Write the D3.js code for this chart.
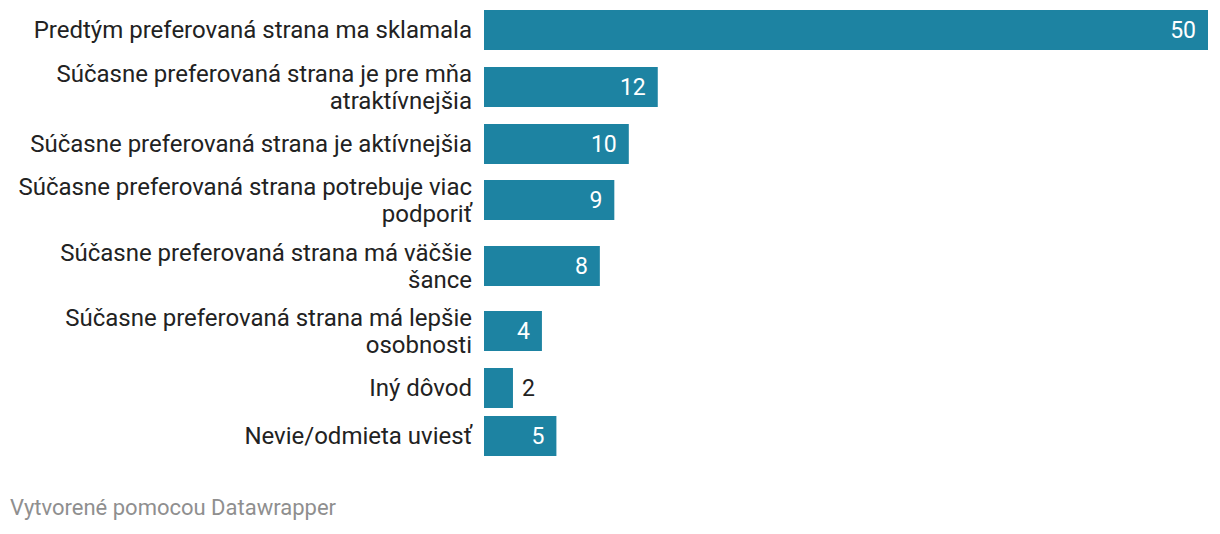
<!DOCTYPE html>
<html>
<head>
	<meta charset="utf-8">
	<title>Dôvody zmeny preferencie</title>
	<script src="https://cdn.jsdelivr.net/npm/d3@7"></script>
	<style>
		body { margin: 0; background: #fff; }
		svg text { font-family: Roboto, "Noto Sans", sans-serif; }
	</style>
</head>
<body>
	<div id="chart"></div>
	<script>
		// dáta
		var labels = [
			["Predtým preferovaná strana ma sklamala"],
			["Súčasne preferovaná strana je pre mňa", "atraktívnejšia"],
			["Súčasne preferovaná strana je aktívnejšia"],
			["Súčasne preferovaná strana potrebuje viac", "podporiť"],
			["Súčasne preferovaná strana má väčšie", "šance"],
			["Súčasne preferovaná strana má lepšie", "osobnosti"],
			["Iný dôvod"],
			["Nevie/odmieta uviesť"]
		];
		var values = [50, 12, 10, 9, 8, 4, 2, 5];
		var footer = "Vytvorené pomocou Datawrapper";

		var w = 1220, h = 534;
		var barLeft = 484, barRight = 1208;
		var barH = 40;
		var color = "#1d83a2";

		var svg = d3.select("#chart").append("svg")
			.attr("width", w)
			.attr("height", h);

		// výška riadku závisí od počtu riadkov popisku (polovica hore, polovica dole)
		var halfH = labels.map(function(l){ return 15.25 + 8.75 * l.length; });
		var tops = [0];
		for (var i = 1; i < labels.length; i++) {
			tops.push(tops[i - 1] + halfH[i - 1] + halfH[i]);
		}
		var yscale = d3.scaleLinear().domain([0, 1]).range([10, 11]);

		var xscale = d3.scaleLinear()
			.domain([0, d3.max(values)])
			.range([barLeft, barRight]);

		var rows = svg.selectAll("g.row")
			.data(values)
			.enter()
			.append("g")
			.attr("class", "row")
			.attr("transform", function(d, i){ return "translate(0," + Math.round(yscale(tops[i])) + ")"; });

		rows.append("rect")
			.attr("x", xscale(0))
			.attr("y", 0)
			.attr("width", function(d){ return xscale(d) - xscale(0); })
			.attr("height", barH)
			.attr("fill", color);

		// popisky kategórií
		var lineH = 27;
		rows.append("text")
			.attr("text-anchor", "end")
			.attr("font-size", 24)
			.attr("fill", "#222")
			.each(function(d, i){
				var t = d3.select(this);
				var lines = labels[i];
				var start = barH / 2 - (lines.length - 1) * lineH / 2;
				lines.forEach(function(s, j){
					t.append("tspan")
						.attr("x", barLeft - 12)
						.attr("y", start + j * lineH)
						.attr("dy", "0.35em")
						.text(s);
				});
			});

		// hodnoty
		rows.append("text")
			.attr("font-size", 23)
			.attr("dy", "0.35em")
			.attr("y", barH / 2)
			.attr("x", function(d){ return d < 3 ? xscale(d) + 9 : xscale(d) - 12; })
			.attr("text-anchor", function(d){ return d < 3 ? "start" : "end"; })
			.attr("fill", function(d){ return d < 3 ? "#222" : "#fff"; })
			.text(function(d){ return d; });

		svg.append("text")
			.attr("x", 10)
			.attr("y", 515)
			.attr("font-size", 22)
			.attr("fill", "#8f8f8f")
			.text(footer);
	</script>
</body>
</html>
